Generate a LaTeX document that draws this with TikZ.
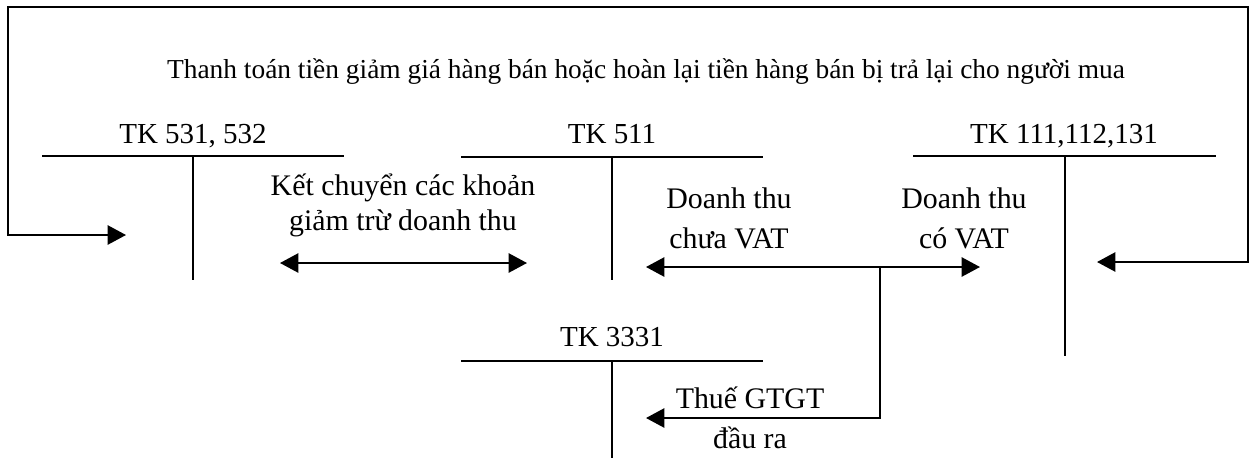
\documentclass[tikz,border=0pt]{standalone}
\usepackage{fontspec}
\setmainfont{Liberation Serif}
\usetikzlibrary{arrows.meta}

\begin{document}
\begin{tikzpicture}[x=0.02cm,y=-0.02cm]
      \tikzstyle{point} = [coordinate]
      \tikzstyle{conn} = [line width=1.1pt]
      \tikzstyle{arr} = [conn, -{Triangle[length=10.5pt,width=11pt]}]
      \tikzstyle{dblarr} = [conn, {Triangle[length=10.5pt,width=11pt]}-{Triangle[length=10.5pt,width=11pt]}]
      \tikzstyle{tklabel} = [anchor=base, inner sep=0pt, font=\fontsize{16.5}{20}\selectfont]
      \tikzstyle{txt} = [anchor=base, inner sep=0pt, align=center, font=\fontsize{17}{22.7}\selectfont]
      \useasboundingbox (0,0) rectangle (1250,457);
      % accounts
      \node (l531) [tklabel] at (193,143) {TK 531, 532};
      \node (a531l) [point] at (42,156) {};
      \node (a531r) [point] at (344,156) {};
      \node (a531t) [point] at (193,156) {};
      \node (a531b) [point] at (193,280) {};
      \node (l511) [tklabel] at (612,143) {TK 511};
      \node (a511l) [point] at (461,157) {};
      \node (a511r) [point] at (763,157) {};
      \node (a511t) [point] at (612,157) {};
      \node (a511b) [point] at (612,280) {};
      \node (l111) [tklabel] at (1064,143) {TK 111,112,131};
      \node (a111l) [point] at (913,156) {};
      \node (a111r) [point] at (1216,156) {};
      \node (a111t) [point] at (1065,156) {};
      \node (a111b) [point] at (1065,356) {};
      \node (l3331) [tklabel] at (612,346) {TK 3331};
      \node (a3331l) [point] at (461,361) {};
      \node (a3331r) [point] at (763,361) {};
      \node (a3331t) [point] at (612,361) {};
      \node (a3331b) [point] at (612,460) {};
      \draw [conn] (a531l)--(a531r);
      \draw [conn] (a531t)--(a531b);
      \draw [conn] (a511l)--(a511r);
      \draw [conn] (a511t)--(a511b);
      \draw [conn] (a111l)--(a111r);
      \draw [conn] (a111t)--(a111b);
      \draw [conn] (a3331l)--(a3331r);
      \draw [conn] (a3331t)--(a3331b);
      % outer loop
      \node (title) [anchor=base, inner sep=0pt, font=\fontsize{15.6}{18}\selectfont] at (646,78)
        {Thanh toán tiền giảm giá hàng bán hoặc hoàn lại tiền hàng bán bị trả lại cho người mua};
      \node (in111) [point] at (1097,262) {};
      \node (p1) [point] at (1248,262) {};
      \node (p2) [point] at (1248,7) {};
      \node (p3) [point] at (8,7) {};
      \node (p4) [point] at (8,235) {};
      \node (in531) [point] at (126,235) {};
      \draw [dblarr] (in111)--(p1)--(p2)--(p3)--(p4)--(in531);
      % transfers
      \node (kc) [txt, font=\fontsize{17}{19.8}\selectfont] at (403,230) {Kết chuyển các khoản\\giảm trừ doanh thu};
      \node (k1) [point] at (280,263) {};
      \node (k2) [point] at (527,263) {};
      \draw [dblarr] (k1)--(k2);
      \node (dt1) [txt] at (729,248) {Doanh thu\\chưa VAT};
      \node (dt2) [txt] at (964,248) {Doanh thu\\có VAT};
      \node (r1) [point] at (646,267) {};
      \node (r2) [point] at (980,267) {};
      \node (j) [point] at (880,267) {};
      \node (jb) [point] at (880,418) {};
      \node (vat) [point] at (646,418) {};
      \draw [dblarr] (r1)--(r2);
      \draw [arr] (j)--(jb)--(vat);
      \node (thue) [txt] at (750,448) {Thuế GTGT\\đầu ra};
\end{tikzpicture}
\end{document}
